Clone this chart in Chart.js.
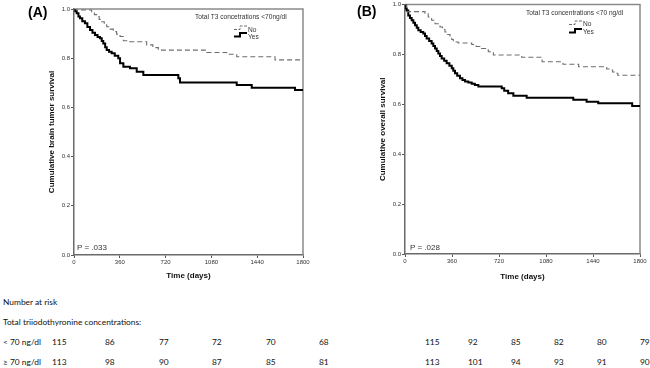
<!DOCTYPE html>
<html>
<head>
<meta charset="utf-8">
<script src="https://cdn.jsdelivr.net/npm/chart.js@4"></script>
<style>
  html, body { margin:0; padding:0; background:#fff; }
  body { width:650px; height:368px; position:relative; overflow:hidden; font-family:"Liberation Sans", Arial, sans-serif; }
  canvas { position:absolute; top:0; }
  .abs { position:absolute; white-space:nowrap; }
  .panel { font-weight:bold; font-size:14px; color:#000; }
  .leg { font-size:6.6px; color:#333; }
  .pv { font-size:8px; color:#333; }
  .tbl { font-family:Lato, "Open Sans", sans-serif; font-size:8.4px; color:#111; line-height:10px; }
</style>
</head>
<body>
<canvas id="cA" width="325" height="290" style="left:0;width:325px;height:290px"></canvas>
<canvas id="cB" width="325" height="290" style="left:325px;width:325px;height:290px"></canvas>
<div id="overlay"></div>
<script>
// ---- data (time in days, cumulative survival after each step) ----
const xTicks = [0, 360, 720, 1080, 1440, 1800];
const yTicks = [0.0, 0.2, 0.4, 0.6, 0.8, 1.0];
const seriesNames = ["No", "Yes"];

// Panel A: brain tumor survival
const aNoT  = [0, 21, 139, 160, 178, 198, 218, 238, 257, 283, 309, 335, 362, 388, 440, 571, 620, 663, 1043, 1200, 1279, 1580, 1800];
const aNoS  = [1.0, 0.996, 0.985, 0.977, 0.969, 0.958, 0.948, 0.938, 0.928, 0.918, 0.908, 0.898, 0.888, 0.871, 0.867, 0.854, 0.843, 0.833, 0.823, 0.816, 0.806, 0.793, 0.793];
const aYesT = [0, 10, 21, 35, 47, 65, 86, 105, 126, 145, 165, 185, 204, 218, 230, 245, 257, 275, 296, 320, 348, 362, 388, 440, 493, 545, 820, 833, 1279, 1397, 1737, 1800];
const aYesS = [1.0, 0.991, 0.983, 0.970, 0.962, 0.950, 0.942, 0.927, 0.915, 0.903, 0.894, 0.886, 0.881, 0.870, 0.860, 0.845, 0.833, 0.826, 0.820, 0.810, 0.800, 0.779, 0.765, 0.759, 0.745, 0.732, 0.718, 0.701, 0.691, 0.680, 0.671, 0.671];

// Panel B: overall survival
const bNoT  = [0, 13, 153, 178, 204, 230, 268, 287, 306, 325, 345, 358, 370, 408, 511, 545, 575, 638, 677, 894, 1050, 1210, 1330, 1545, 1570, 1590, 1609, 1630, 1800];
const bNoS  = [1.0, 0.972, 0.963, 0.950, 0.937, 0.923, 0.910, 0.900, 0.890, 0.880, 0.870, 0.860, 0.850, 0.846, 0.840, 0.832, 0.824, 0.811, 0.798, 0.789, 0.771, 0.761, 0.751, 0.742, 0.738, 0.730, 0.725, 0.717, 0.717];
const bYesT = [0, 8, 13, 25, 38, 51, 64, 77, 90, 102, 120, 140, 153, 166, 185, 204, 217, 230, 243, 255, 268, 281, 300, 319, 340, 358, 370, 383, 400, 421, 440, 460, 485, 511, 535, 562, 741, 760, 790, 830, 932, 1289, 1391, 1480, 1740, 1800];
const bYesS = [1.0, 0.984, 0.976, 0.956, 0.946, 0.937, 0.927, 0.917, 0.907, 0.897, 0.890, 0.884, 0.874, 0.864, 0.854, 0.844, 0.834, 0.824, 0.814, 0.804, 0.794, 0.784, 0.775, 0.765, 0.755, 0.745, 0.735, 0.725, 0.715, 0.705, 0.698, 0.692, 0.688, 0.683, 0.678, 0.672, 0.665, 0.655, 0.645, 0.635, 0.627, 0.618, 0.610, 0.604, 0.593, 0.593];

// Number at risk
const riskCols = ["0", "360", "720", "1080", "1440", "1800"];
const riskGroups = ["< 70 ng/dl", "\u2265 70 ng/dl"];
const riskA_low  = [115, 86, 77, 72, 70, 68];
const riskA_high = [113, 98, 90, 87, 85, 81];
const riskB_low  = [115, 92, 85, 82, 80, 79];
const riskB_high = [113, 101, 94, 93, 91, 90];

// ---- chart building ----
const toPts = (t, s) => t.map((x, i) => ({x: x, y: s[i]}));

const framePlugin = {
  id: 'frame',
  beforeDatasetsDraw(chart) {
    const a = chart.chartArea, c = chart.ctx;
    c.save();
    c.strokeStyle = '#8a8a8a';
    c.lineWidth = 1.5;
    c.beginPath();
    c.moveTo(a.left, a.top); c.lineTo(a.right, a.top); c.lineTo(a.right, a.bottom);
    c.stroke();
    c.restore();
  }
};

function makeChart(id, noT, noS, yesT, yesS, yTitle, pad, yW, xH) {
  return new Chart(document.getElementById(id), {
    type: 'line',
    data: {
      datasets: [
        { label: seriesNames[0], data: toPts(noT, noS), stepped: 'before', borderColor: '#6e6e6e', borderWidth: 1.1, borderDash: [5, 3], pointRadius: 0, fill: false },
        { label: seriesNames[1], data: toPts(yesT, yesS), stepped: 'before', borderColor: '#000', borderWidth: 2, pointRadius: 0, fill: false }
      ]
    },
    options: {
      responsive: false, animation: false, devicePixelRatio: 1,
      layout: { padding: pad },
      plugins: { legend: { display: false }, tooltip: { enabled: false } },
      scales: {
        x: {
          type: 'linear', min: 0, max: 1800,
          afterBuildTicks: s => { s.ticks = xTicks.map(v => ({value: v})); },
          afterFit: s => { s.height = xH; },
          ticks: { font: { family: 'Liberation Sans', size: 6 }, color: '#333', padding: 1, maxRotation: 0, autoSkip: false, callback: v => String(v) },
          grid: { display: true, drawOnChartArea: false, drawTicks: true, tickLength: 3, color: '#555', lineWidth: 1 },
          border: { display: true, color: '#6a6a6a', width: 1.5 },
          title: { display: true, text: 'Time (days)', font: { family: 'Liberation Sans', size: 8, weight: 'bold' }, color: '#111', padding: 0 }
        },
        y: {
          type: 'linear', min: 0, max: 1,
          afterBuildTicks: s => { s.ticks = yTicks.map(v => ({value: v})); },
          afterFit: s => { s.width = yW; },
          ticks: { font: { family: 'Liberation Sans', size: 6 }, color: '#333', padding: 1, callback: v => Number(v).toFixed(1) },
          grid: { display: true, drawOnChartArea: false, drawTicks: true, tickLength: 3, color: '#555', lineWidth: 1 },
          border: { display: true, color: '#6a6a6a', width: 1.5 },
          title: { display: true, text: yTitle, font: { family: 'Liberation Sans', size: 8, weight: 'bold' }, color: '#111', padding: 0 }
        }
      }
    },
    plugins: [framePlugin]
  });
}

makeChart('cA', aNoT, aNoS, aYesT, aYesS, 'Cumulative brain tumor survival', { left: 47, right: 22, top: 9, bottom: 9 }, 27, 26);
makeChart('cB', bNoT, bNoS, bYesT, bYesS, 'Cumulative overall survival', { left: 53, right: 10, top: 4, bottom: 8 }, 27, 28);

// ---- HTML overlays (labels, legends, risk table) ----
const ov = document.getElementById('overlay');
function add(cls, text, x, y, extra) {
  const d = document.createElement('div');
  d.className = 'abs ' + cls;
  d.textContent = text;
  d.style.left = x + 'px'; d.style.top = y + 'px';
  if (extra) Object.assign(d.style, extra);
  ov.appendChild(d);
  return d;
}
function legendSym(x, y, dashed) {
  const ns = 'http://www.w3.org/2000/svg';
  const s = document.createElementNS(ns, 'svg');
  s.setAttribute('width', 14); s.setAttribute('height', 6);
  s.style.position = 'absolute'; s.style.left = x + 'px'; s.style.top = y + 'px';
  const p = document.createElementNS(ns, 'polyline');
  p.setAttribute('points', '0,4.5 6,4.5 6,1 13,1');
  p.setAttribute('fill', 'none');
  p.setAttribute('stroke', dashed ? '#6e6e6e' : '#000');
  p.setAttribute('stroke-width', dashed ? 1 : 2);
  if (dashed) p.setAttribute('stroke-dasharray', '3,1.5');
  s.appendChild(p);
  ov.appendChild(s);
}

add('panel', '(A)', 28, 4);
add('panel', '(B)', 357, 3);

add('leg', 'Total T3 concetrations <70ng/dl', 195, 13);
legendSym(234, 25, true);  add('leg', seriesNames[0], 248, 25.5);
legendSym(234, 32, false); add('leg', seriesNames[1], 248, 32.5);

add('leg', 'Total T3 concentrations <70 ng/dl', 526, 9);
legendSym(569, 20, true);  add('leg', seriesNames[0], 583, 19.5);
legendSym(569, 28, false); add('leg', seriesNames[1], 583, 27.5);

add('pv', 'P = .033', 77, 243);
add('pv', 'P = .028', 410, 243);

add('tbl', 'Number at risk', 3, 297);
add('tbl', 'Total triiodothyronine concentrations:', 3, 317);
add('tbl', riskGroups[0], 3, 337);
add('tbl', riskGroups[1], 3, 357);
const colA = [52, 105, 159, 212, 266, 319];
const colB = [425, 468, 511, 554, 597, 640];
riskA_low.forEach((v, i) => add('tbl', String(v), colA[i], 337));
riskA_high.forEach((v, i) => add('tbl', String(v), colA[i], 357));
riskB_low.forEach((v, i) => add('tbl', String(v), colB[i], 337));
riskB_high.forEach((v, i) => add('tbl', String(v), colB[i], 357));
</script>
</body>
</html>
